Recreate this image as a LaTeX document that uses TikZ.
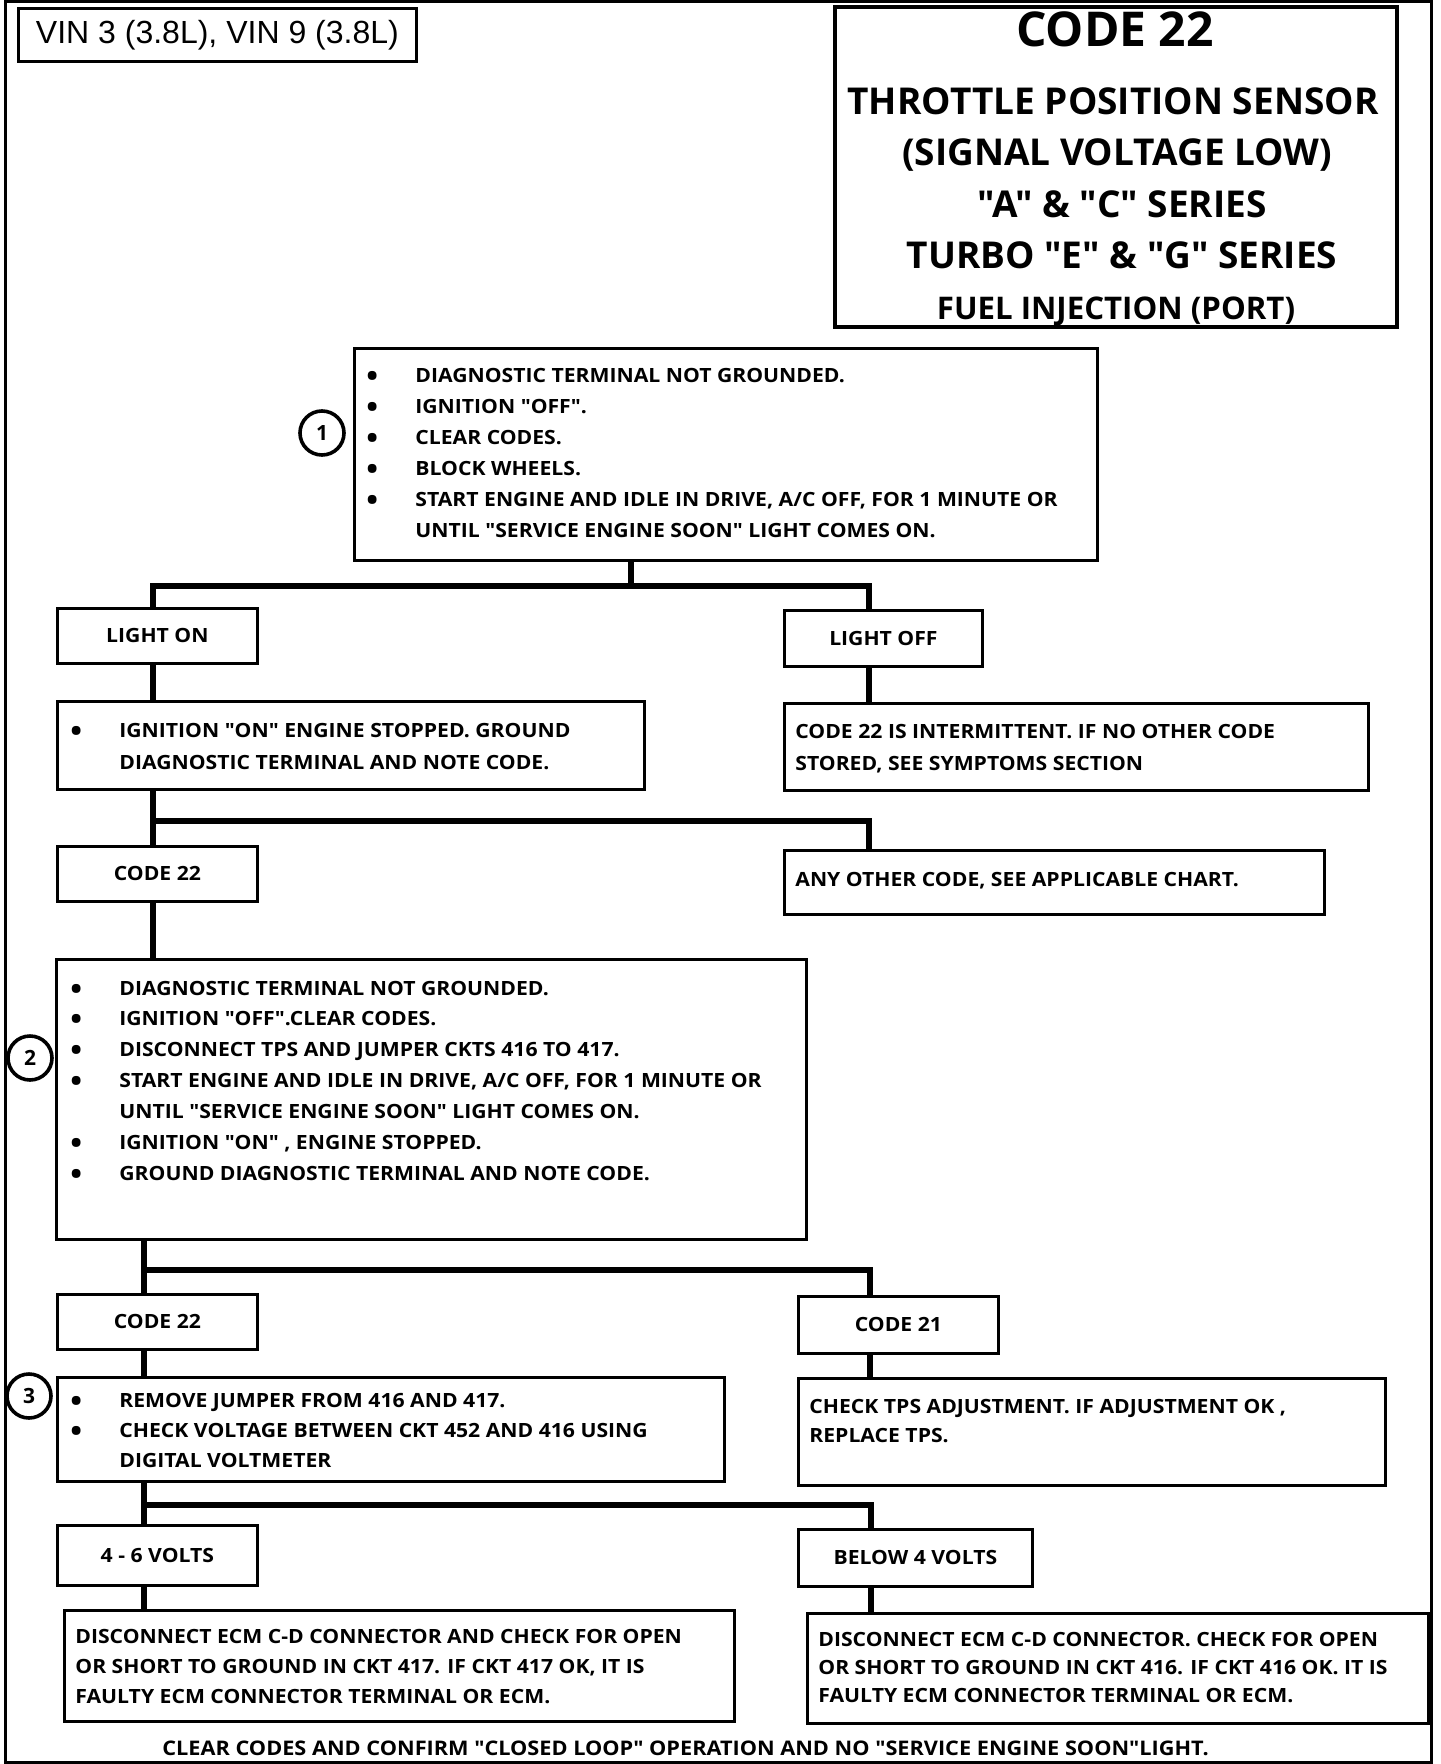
\documentclass[tikz,border=0pt]{standalone}
\usepackage{fontspec}
\setmainfont{Open Sans}
\newfontfamily\vinfont{Liberation Sans}
\newfontfamily\headfont{Open Sans}
\newfontfamily\chartfont[FakeStretch=1.08]{Open Sans}
\newcommand\boxfont{\chartfont\fontsize{9.8}{11}\selectfont\bfseries}
\newcommand\itembul{\makebox[24.5pt][l]{\raisebox{-2pt}{\fontsize{14.5}{14}\selectfont\textbullet}}}

\begin{document}
\begin{tikzpicture}[x=0.5pt,y=0.5pt,yscale=-1,
    box/.style 2 args={draw, line width=1.4pt, anchor=north west, inner sep=0pt,
      minimum width=#1*0.5pt, minimum height=#2*0.5pt},
    link/.style={line width=3pt},
    txt/.style={anchor=base west, inner sep=0pt, font=\boxfont},
    head/.style={anchor=base, inner sep=0pt, font=\headfont\fontsize{18.5}{22}\selectfont\bfseries},
    num/.style={draw, circle, line width=1.8pt, minimum size=22pt, inner sep=0pt,
      font=\fontsize{10.5}{11}\selectfont\bfseries}]
        \useasboundingbox (0,0) rectangle (1440,1764);
        %Shape: Frame
        \draw [line width=1.5pt] (5.5,1.5) rectangle (1431,1762);

        %Shape: Rectangle [VIN]
        \node [box={398}{53}, line width=1.4pt, font=\vinfont\fontsize{16}{19}\selectfont] (vin) at (17,7) {VIN 3 (3.8L), VIN 9 (3.8L)};
        %Shape: Rectangle [title]
        \node [box={562}{320}, line width=2pt] (head) at (833,5) {};
        % Text Node
        \node [head, font=\headfont\fontsize{24}{28}\selectfont\bfseries] (h0) at (1115,47) {CODE 22};
        % Text Node
        \node [head] (h1) at (1113,115) {THROTTLE POSITION SENSOR};
        % Text Node
        \node [head] (h2) at (1117,166) {(SIGNAL VOLTAGE LOW)};
        % Text Node
        \node [head] (h3) at (1122,218) {"A" \& "C" SERIES};
        % Text Node
        \node [head] (h4) at (1122,269) {TURBO "E" \& "G" SERIES};
        % Text Node
        \node [head, font=\headfont\fontsize{15.6}{20}\selectfont\bfseries] (h5) at (1116,320) {FUEL INJECTION (PORT)};

        %Shape: Rectangle [step 1]
        \node [box={743}{212}] (b1) at (353,347) {};
        \node [num] (n1) at (322,433) {1};
        % Text Node
        \node [txt] (b1a) at (366,383) {\itembul DIAGNOSTIC TERMINAL NOT GROUNDED.};
        \node [txt] (b1b) at (366,414) {\itembul IGNITION "OFF".};
        \node [txt] (b1c) at (366,445) {\itembul CLEAR CODES.};
        \node [txt] (b1d) at (366,476) {\itembul BLOCK WHEELS.};
        \node [txt] (b1e) at (366,507) {\itembul START ENGINE AND IDLE IN DRIVE, A/C OFF, FOR 1 MINUTE OR};
        \node [txt] (b1f) at (415,538) {UNTIL "SERVICE ENGINE SOON" LIGHT COMES ON.};

        %Shape: Rectangle [light on / off]
        \node [box={200}{55}, font=\boxfont] (lon) at (56,607) {LIGHT ON};
        \node [box={198}{56}, font=\boxfont] (loff) at (783,609) {LIGHT OFF};
        \node [box={587}{88}] (ign) at (56,700) {};
        % Text Node
        \node [txt] (igna) at (70,737) {\itembul IGNITION "ON" ENGINE STOPPED. GROUND};
        \node [txt] (ignb) at (119,769) {DIAGNOSTIC TERMINAL AND NOTE CODE.};
        \node [box={584}{87}] (int) at (783,702) {};
        % Text Node
        \node [txt] (inta) at (795,738) {CODE 22 IS INTERMITTENT. IF NO OTHER CODE};
        \node [txt] (intb) at (795,770) {STORED, SEE SYMPTOMS SECTION};

        %Shape: Rectangle [code 22 / other]
        \node [box={200}{55}, font=\boxfont] (c22a) at (56,845) {CODE 22};
        \node [box={540}{64}] (oth) at (783,849) {};
        % Text Node
        \node [txt] (otha) at (795,886) {ANY OTHER CODE, SEE APPLICABLE CHART.};

        %Shape: Rectangle [step 2]
        \node [box={750}{280}] (b2) at (55,958) {};
        \node [num] (n2) at (30,1058) {2};
        % Text Node
        \node [txt] (b2a) at (70,995) {\itembul DIAGNOSTIC TERMINAL NOT GROUNDED.};
        \node [txt] (b2b) at (70,1025) {\itembul IGNITION "OFF".CLEAR CODES.};
        \node [txt] (b2c) at (70,1056) {\itembul DISCONNECT TPS AND JUMPER CKTS 416 TO 417.};
        \node [txt] (b2d) at (70,1087) {\itembul START ENGINE AND IDLE IN DRIVE, A/C OFF, FOR 1 MINUTE OR};
        \node [txt] (b2e) at (119,1118) {UNTIL "SERVICE ENGINE SOON" LIGHT COMES ON.};
        \node [txt] (b2f) at (70,1149) {\itembul IGNITION "ON" , ENGINE STOPPED.};
        \node [txt] (b2g) at (70,1180) {\itembul GROUND DIAGNOSTIC TERMINAL AND NOTE CODE.};

        %Shape: Rectangle [code 22 / code 21]
        \node [box={200}{55}, font=\boxfont] (c22b) at (56,1293) {CODE 22};
        \node [box={200}{57}, font=\boxfont] (c21) at (797,1295) {CODE 21};

        %Shape: Rectangle [step 3]
        \node [box={667}{104}] (b3) at (56,1376) {};
        \node [num] (n3) at (29,1396) {3};
        % Text Node
        \node [txt] (b3a) at (70,1407) {\itembul REMOVE JUMPER FROM 416 AND 417.};
        \node [txt] (b3b) at (70,1437) {\itembul CHECK VOLTAGE BETWEEN CKT 452 AND 416 USING};
        \node [txt] (b3c) at (119,1467) {DIGITAL VOLTMETER};
        \node [box={587}{107}] (tps) at (797,1377) {};
        % Text Node
        \node [txt] (tpsa) at (809,1413) {CHECK TPS ADJUSTMENT. IF ADJUSTMENT OK ,};
        \node [txt] (tpsb) at (809,1442) {REPLACE TPS.};

        %Shape: Rectangle [volts]
        \node [box={200}{60}, font=\boxfont] (v46) at (56,1524) {4 - 6 VOLTS};
        \node [box={234}{57}, font=\boxfont] (vb4) at (797,1528) {BELOW 4 VOLTS};
        \node [box={670}{111}] (ecl) at (63,1609) {};
        % Text Node
        \node [txt] (ecla) at (75,1643) {DISCONNECT ECM C-D CONNECTOR AND CHECK FOR OPEN};
        \node [txt] (eclb) at (75,1673) {OR SHORT TO GROUND IN CKT 417. IF CKT 417 OK, IT IS};
        \node [txt] (eclc) at (75,1703) {FAULTY ECM CONNECTOR TERMINAL OR ECM.};
        \node [box={621}{110}] (ecr) at (806,1612) {};
        % Text Node
        \node [txt] (ecra) at (818,1646) {DISCONNECT ECM C-D CONNECTOR. CHECK FOR OPEN};
        \node [txt] (ecrb) at (818,1674) {OR SHORT TO GROUND IN CKT 416. IF CKT 416 OK. IT IS};
        \node [txt] (ecrc) at (818,1702) {FAULTY ECM CONNECTOR TERMINAL OR ECM.};

        % Text Node
        \node [txt, font=\chartfont\fontsize{10.05}{11}\selectfont\bfseries] (foot) at (162,1755) {CLEAR CODES AND CONFIRM "CLOSED LOOP" OPERATION AND NO "SERVICE ENGINE SOON"LIGHT.};

        %Straight Lines [branch 1]
        \coordinate (j1) at (631,586);
        \coordinate (l1) at (153,586);
        \coordinate (r1) at (869,586);
        \draw [link] (b1.south -| j1) -- (j1);
        \draw [link] (lon.north -| l1) -- (l1) -- (r1) -- (loff.north -| r1);
        \draw [link] (lon.south -| l1) -- (ign.north -| l1);
        \draw [link] (loff.south -| r1) -- (int.north -| r1);
        %Straight Lines [branch 2]
        \coordinate (l2) at (153,821);
        \coordinate (r2) at (869,821);
        \draw [link] (ign.south -| l2) -- (c22a.north -| l2);
        \draw [link] (l2) -- (r2) -- (oth.north -| r2);
        \draw [link] (c22a.south -| l2) -- (b2.north -| l2);
        %Straight Lines [branch 3]
        \coordinate (l3) at (144,1270);
        \coordinate (r3) at (870,1270);
        \draw [link] (b2.south -| l3) -- (c22b.north -| l3);
        \draw [link] (l3) -- (r3) -- (c21.north -| r3);
        \draw [link] (c22b.south -| l3) -- (b3.north -| l3);
        \draw [link] (c21.south -| r3) -- (tps.north -| r3);
        %Straight Lines [branch 4]
        \coordinate (l4) at (144,1505);
        \coordinate (r4) at (871,1505);
        \draw [link] (b3.south -| l4) -- (v46.north -| l4);
        \draw [link] (l4) -- (r4) -- (vb4.north -| r4);
        \draw [link] (v46.south -| l4) -- (ecl.north -| l4);
        \draw [link] (vb4.south -| r4) -- (ecr.north -| r4);
\end{tikzpicture}
\end{document}
